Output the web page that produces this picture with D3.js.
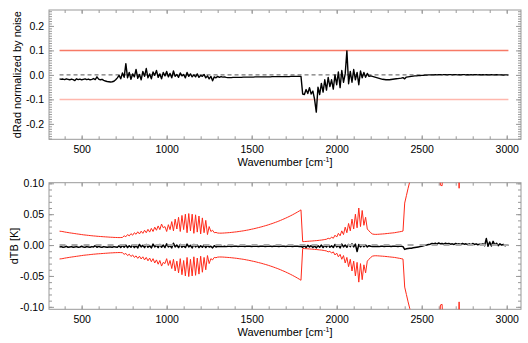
<!DOCTYPE html>
<html>
<head>
<meta charset="utf-8">
<script src="https://cdn.jsdelivr.net/npm/d3@7"></script>
<style>
  body { margin: 0; background: #fff; }
  svg { display: block; }
</style>
</head>
<body>
<div id="chart"></div>
<script>
// wavenumber grid shared by all series: 370, 380, ... 3010 cm-1
const wnStart = 370;
const wnStep = 10;

// top panel: radiance difference normalized by noise
const dRad = [
  -0.016,-0.018,-0.017,-0.019,-0.016,-0.018,-0.020,-0.017,-0.019,-0.023, // 370
  -0.016,-0.019,-0.017,-0.020,-0.018,-0.016,-0.019,-0.017,-0.020,-0.018, // 470
  -0.015,-0.019,-0.008,-0.017,-0.020,-0.018,-0.022,-0.025,-0.027,-0.028, // 570
  -0.029,-0.028,-0.026,-0.020,-0.012,-0.002,-0.016, 0.008,-0.010, 0.046, // 670
  -0.012, 0.010,-0.018, 0.004,-0.008, 0.022,-0.014, 0.002,-0.020, 0.014, // 770
  -0.006, 0.026,-0.012, 0.004,-0.016, 0.012,-0.002, 0.018,-0.010, 0.004, // 870
  -0.016, 0.010,-0.004, 0.014,-0.008, 0.006,-0.012, 0.016,-0.006, 0.002, // 970
  -0.010, 0.008,-0.004, 0.002,-0.012, 0.010,-0.006, 0.004,-0.008, 0.000, // 1070
  -0.008, 0.004,-0.010,-0.002,-0.006, 0.002,-0.012,-0.004,-0.016,-0.006, // 1170
  -0.024,-0.008,-0.012,-0.006,-0.010,-0.007,-0.009,-0.008,-0.010,-0.011, // 1270
  -0.011,-0.011,-0.010,-0.010,-0.010,-0.010,-0.010,-0.010,-0.009,-0.009, // 1370
  -0.009,-0.009,-0.009,-0.009,-0.009,-0.008,-0.008,-0.008,-0.008,-0.008, // 1470
  -0.008,-0.008,-0.008,-0.008,-0.008,-0.007,-0.007,-0.007,-0.007,-0.007, // 1570
  -0.007,-0.007,-0.007,-0.007,-0.007,-0.007,-0.006,-0.006,-0.006,-0.006, // 1670
  -0.006,-0.006,-0.006,-0.078,-0.080,-0.060,-0.076,-0.052,-0.078,-0.066, // 1770
  -0.100,-0.152,-0.050,-0.080,-0.035,-0.070,-0.020,-0.062,-0.010,-0.048, // 1870
  -0.020,-0.058, 0.000,-0.040, 0.012,-0.052, 0.018,-0.030, 0.004, 0.098, // 1970
  -0.036, 0.014,-0.030, 0.022,-0.020, 0.010,-0.040, 0.016,-0.012, 0.010, // 2070
  -0.010, 0.006,-0.006,-0.004,-0.006,-0.008,-0.010,-0.012,-0.014,-0.016, // 2170
  -0.018,-0.019,-0.020,-0.020,-0.020,-0.019,-0.018,-0.017,-0.016,-0.015, // 2270
  -0.014,-0.013,-0.011,-0.016,-0.009,-0.008,-0.007,-0.006,-0.005,-0.004, // 2370
  -0.004,-0.003,-0.003,-0.002,-0.002,-0.001,-0.001, 0.000, 0.000, 0.000, // 2470
   0.000, 0.001, 0.000, 0.001, 0.001, 0.000, 0.001, 0.001, 0.000, 0.001, // 2570
   0.001, 0.000, 0.001, 0.001, 0.000, 0.001, 0.000, 0.001, 0.001, 0.000, // 2670
   0.001, 0.000, 0.001, 0.000, 0.001, 0.001, 0.000, 0.001, 0.000, 0.001, // 2770
   0.000, 0.001, 0.000, 0.000, 0.001, 0.000, 0.000, 0.001, 0.000, 0.000, // 2870
   0.000,-0.001, 0.000, 0.000,-0.001                                      // 2970
];

// bottom panel: brightness temperature difference [K]
const dTB = [
  -0.0030,-0.0025,-0.0035,-0.0030,-0.0020,-0.0035,-0.0030,-0.0025,-0.0035,-0.0030, // 370
  -0.0025,-0.0035,-0.0030,-0.0020,-0.0030,-0.0035,-0.0025,-0.0030,-0.0035,-0.0025, // 470
  -0.0030,-0.0010,-0.0035,-0.0020,-0.0030,-0.0035,-0.0025,-0.0030,-0.0035,-0.0030, // 570
  -0.0030,-0.0035,-0.0025,-0.0030,-0.0035,-0.0010,-0.0040,-0.0005,-0.0035, 0.0000, // 670
  -0.0040,-0.0010,-0.0035, 0.0005,-0.0040,-0.0010,-0.0045, 0.0010,-0.0030,-0.0005, // 770
  -0.0040, 0.0010,-0.0035,-0.0010,-0.0045, 0.0015,-0.0030,-0.0005,-0.0040, 0.0010, // 870
  -0.0035, 0.0000,-0.0040, 0.0020,-0.0030,-0.0010,-0.0045, 0.0030,-0.0030, 0.0000, // 970
  -0.0040, 0.0010,-0.0035,-0.0010,-0.0040, 0.0015,-0.0030,-0.0005,-0.0045, 0.0010, // 1070
  -0.0030, 0.0000,-0.0040,-0.0010,-0.0035, 0.0000,-0.0040,-0.0010,-0.0030,-0.0020, // 1170
  -0.0045,-0.0010,-0.0030,-0.0020,-0.0025,-0.0020,-0.0025,-0.0020,-0.0025,-0.0020, // 1270
  -0.0020,-0.0022,-0.0020,-0.0018,-0.0020,-0.0022,-0.0020,-0.0018,-0.0020,-0.0022, // 1370
  -0.0020,-0.0018,-0.0020,-0.0022,-0.0020,-0.0018,-0.0020,-0.0022,-0.0020,-0.0018, // 1470
  -0.0020,-0.0022,-0.0020,-0.0018,-0.0020,-0.0022,-0.0020,-0.0018,-0.0020,-0.0022, // 1570
  -0.0020,-0.0018,-0.0020,-0.0022,-0.0020,-0.0018,-0.0020,-0.0022,-0.0020,-0.0018, // 1670
  -0.0020,-0.0022,-0.0020,-0.0035,-0.0010,-0.0040,-0.0005,-0.0030,-0.0010,-0.0040, // 1770
  -0.0015,-0.0045,-0.0010,-0.0035, 0.0000,-0.0040,-0.0005,-0.0030, 0.0005,-0.0035, // 1870
  -0.0010,-0.0040, 0.0010,-0.0030,-0.0005,-0.0045, 0.0015,-0.0030, 0.0000,-0.0035, // 1970
   0.0010,-0.0025, 0.0020,-0.0030, 0.0015,-0.0105, 0.0010,-0.0030, 0.0005,-0.0025, // 2070
   0.0000,-0.0030,-0.0010,-0.0020,-0.0025,-0.0020,-0.0025,-0.0020,-0.0025,-0.0020, // 2170
  -0.0020,-0.0022,-0.0020,-0.0018,-0.0020,-0.0022,-0.0020,-0.0018,-0.0020,-0.0022, // 2270
  -0.0020,-0.0020,-0.0025,-0.0070,-0.0060,-0.0055,-0.0050,-0.0050,-0.0045,-0.0040, // 2370
  -0.0035,-0.0030,-0.0025,-0.0020,-0.0010,-0.0005, 0.0000, 0.0010, 0.0015, 0.0025, // 2470
   0.0020, 0.0030, 0.0015, 0.0035, 0.0020, 0.0025, 0.0015, 0.0030, 0.0020, 0.0025, // 2570
   0.0015, 0.0020, 0.0010, 0.0025, 0.0015, 0.0020, 0.0010, 0.0025, 0.0015, 0.0020, // 2670
   0.0010, 0.0020, 0.0005, 0.0025, 0.0010, 0.0020, 0.0005, 0.0015, 0.0010, 0.0020, // 2770
  -0.0010, 0.0105,-0.0020, 0.0050,-0.0015, 0.0060, 0.0000, 0.0030,-0.0010, 0.0020, // 2870
   0.0000, 0.0010,-0.0010, 0.0000,-0.0005                                          // 2970
];

// bottom panel: +/- uncertainty envelope of dTB [K] (drawn above and below zero)
const tbErr = [
  .0225,.0222,.0218,.0212,.0207,.0203,.0198,.0194,.0190,.0186, // 370
  .0182,.0178,.0174,.0170,.0166,.0163,.0160,.0157,.0154,.0151, // 470
  .0148,.0146,.0143,.0141,.0139,.0137,.0135,.0133,.0131,.0129, // 570
  .0127,.0126,.0124,.0123,.0122,.0121,.0122,.0124,.0150,.0135, // 670
  .0170,.0148,.0185,.0160,.0200,.0175,.0215,.0180,.0225,.0190, // 770
  .0240,.0200,.0255,.0210,.0270,.0220,.0290,.0240,.0310,.0250, // 870
  .0340,.0280,.0300,.0220,.0330,.0250,.0380,.0230,.0420,.0260, // 970
  .0450,.0220,.0480,.0250,.0500,.0200,.0510,.0230,.0500,.0190, // 1070
  .0490,.0210,.0470,.0180,.0440,.0200,.0400,.0170,.0300,.0220, // 1170
  .0240,.0200,.0205,.0195,.0193,.0193,.0194,.0196,.0198,.0200, // 1270
  .0202,.0205,.0208,.0211,.0214,.0218,.0222,.0226,.0230,.0235, // 1370
  .0240,.0245,.0251,.0257,.0263,.0269,.0276,.0283,.0290,.0297, // 1470
  .0305,.0313,.0321,.0330,.0339,.0348,.0358,.0368,.0378,.0389, // 1570
  .0400,.0412,.0424,.0436,.0449,.0462,.0476,.0490,.0505,.0520, // 1670
  .0536,.0552,.0570,.0055,.0057,.0059,.0061,.0063,.0065,.0067, // 1770
  .0070,.0072,.0075,.0078,.0081,.0085,.0090,.0095,.0110,.0100, // 1870
  .0130,.0110,.0160,.0130,.0190,.0150,.0230,.0170,.0290,.0200, // 1970
  .0350,.0230,.0420,.0260,.0500,.0280,.0600,.0300,.0560,.0320, // 2070
  .0450,.0260,.0230,.0200,.0180,.0174,.0173,.0174,.0176,.0178, // 2170
  .0180,.0182,.0185,.0188,.0191,.0194,.0197,.0200,.0205,.0210, // 2270
  .0215,.0220,.0227,.0680,.0800,.0920,.1030,.1200,.1400,.1600, // 2370
  .180,.200,.210,.220,.230,.230,.220,.220,.210,.200,           // 2470
  .190,.180,.170,.160,.097,.096,.160,.180,.200,.210,           // 2570
  .220,.230,.220,.210,.200,.092,.200,.210,.220,.230,           // 2670
  .230,.220,.220,.210,.210,.200,.200,.200,.190,.190,           // 2770
  .190,.180,.180,.180,.170,.170,.170,.170,.160,.160,           // 2870
  .160,.160,.150,.150,.150                                     // 2970
];

// threshold lines in the top panel
const radLimits = [0.1, -0.1];
const radLimitColors = ['#f77a66', '#ffb7ad'];

// axis ticks and labels
const xDomain = [308, 3084];
const xMajor = [500, 1000, 1500, 2000, 2500, 3000];
const xMinor = d3.range(400, 3001, 100);
const radDomain = [-0.263, 0.265];
const radMajor = [-0.2, -0.1, 0.0, 0.1, 0.2];
const radMinor = d3.range(-26, 27).map(i => i / 100);
const tbDomain = [-0.104, 0.101];
const tbMajor = [-0.10, -0.05, 0.00, 0.05, 0.10];
const tbMinor = d3.range(-10, 11).map(i => i / 100);

const width = 528, height = 343;
const left = 49, right = 521;
const axisColor = '#999';
const font = '"Liberation Sans", Arial, Helvetica, sans-serif';

const wn = dRad.map((d, i) => wnStart + i * wnStep);

const svg = d3.select('#chart').append('svg')
  .attr('width', width)
  .attr('height', height);

const x = d3.scaleLinear().domain(xDomain).range([left, right]);

// draws frame, inward ticks on all four sides, tick labels and titles
function drawFrame(y, top, bottom, major, minor, fmt, yTitle, yTitleX) {
  let g = svg.append('g');

  let bottomAxis = g.append('g').attr('transform', 'translate(0,' + bottom + ')');
  bottomAxis.append('g').call(d3.axisBottom(x).tickValues(xMinor).tickSize(-3).tickFormat(''));
  bottomAxis.append('g').call(d3.axisBottom(x).tickValues(xMajor).tickSize(-4).tickPadding(6).tickFormat(d => d));

  let topAxis = g.append('g').attr('transform', 'translate(0,' + top + ')');
  topAxis.append('g').call(d3.axisTop(x).tickValues(xMinor).tickSize(-3).tickFormat(''));
  topAxis.append('g').call(d3.axisTop(x).tickValues(xMajor).tickSize(-4).tickFormat(''));

  let leftAxis = g.append('g').attr('transform', 'translate(' + left + ',0)');
  leftAxis.append('g').call(d3.axisLeft(y).tickValues(minor).tickSize(-3).tickFormat(''));
  leftAxis.append('g').call(d3.axisLeft(y).tickValues(major).tickSize(-5).tickPadding(5).tickFormat(fmt));

  let rightAxis = g.append('g').attr('transform', 'translate(' + right + ',0)');
  rightAxis.append('g').call(d3.axisRight(y).tickValues(minor).tickSize(-3).tickFormat(''));
  rightAxis.append('g').call(d3.axisRight(y).tickValues(major).tickSize(-5).tickFormat(''));

  g.selectAll('.domain').remove();
  g.selectAll('.tick line').attr('stroke', axisColor);
  g.selectAll('.tick text')
    .attr('fill', '#000')
    .style('font-family', font)
    .style('font-size', '10.5px');

  g.append('rect')
    .attr('x', left)
    .attr('y', top)
    .attr('width', right - left)
    .attr('height', bottom - top)
    .attr('fill', 'none')
    .attr('stroke', axisColor);

  // x title with superscript
  let xt = g.append('text')
    .attr('x', (left + right) / 2)
    .attr('y', bottom + 27)
    .attr('text-anchor', 'middle')
    .style('font-family', font)
    .style('font-size', '11px');
  xt.append('tspan').text('Wavenumber [cm');
  xt.append('tspan').attr('dy', -4).style('font-size', '7px').text('-1');
  xt.append('tspan').attr('dy', 4).text(']');

  g.append('text')
    .attr('transform', 'translate(' + yTitleX + ',' + ((top + bottom) / 2) + ') rotate(-90)')
    .attr('text-anchor', 'middle')
    .style('font-family', font)
    .style('font-size', '11px')
    .text(yTitle);
}

// ---------- top panel ----------
const topT = 10, topB = 139.3;
const yRad = d3.scaleLinear().domain(radDomain).range([topB, topT]);

drawFrame(yRad, topT, topB, radMajor, radMinor, d => d.toFixed(1), 'dRad normalized by noise', 20.5);

const wnFirst = wn[0], wnLast = wn[wn.length - 1];

svg.append('g').selectAll('line')
  .data(radLimits)
  .enter()
  .append('line')
  .attr('x1', x(wnFirst))
  .attr('x2', x(wnLast))
  .attr('y1', d => yRad(d))
  .attr('y2', d => yRad(d))
  .attr('stroke', (d, i) => radLimitColors[i])
  .attr('stroke-width', 1.5);

svg.append('line')
  .attr('x1', x(wnFirst))
  .attr('x2', x(wnLast))
  .attr('y1', yRad(0))
  .attr('y2', yRad(0))
  .attr('stroke', '#555')
  .attr('stroke-dasharray', '4,3');

const radLine = d3.line()
  .x((d, i) => x(wn[i]))
  .y(d => yRad(d));

svg.append('path')
  .datum(dRad)
  .attr('d', radLine)
  .attr('fill', 'none')
  .attr('stroke', '#000')
  .attr('stroke-width', 1.4)
  .attr('stroke-linejoin', 'round');

// ---------- bottom panel ----------
const botT = 182.7, botB = 309.3;
const yTb = d3.scaleLinear().domain(tbDomain).range([botB, botT]);

drawFrame(yTb, botT, botB, tbMajor, tbMinor, d => d.toFixed(2), 'dTB [K]', 18);

svg.append('clipPath')
  .attr('id', 'clip-bot')
  .append('rect')
  .attr('x', left)
  .attr('y', botT)
  .attr('width', right - left)
  .attr('height', botB - botT);

const plotBot = svg.append('g').attr('clip-path', 'url(#clip-bot)');

const tbLine = d3.line()
  .x((d, i) => x(wn[i]))
  .y(d => yTb(d));

// the envelope is drawn as +err and -err
[1, -1].forEach(sign => {
  plotBot.append('path')
    .datum(tbErr.map(d => sign * d))
    .attr('d', tbLine)
    .attr('fill', 'none')
    .attr('stroke', '#ff2a1a')
    .attr('stroke-width', 1);
});

plotBot.append('path')
  .datum(dTB)
  .attr('d', tbLine)
  .attr('fill', 'none')
  .attr('stroke', '#000')
  .attr('stroke-width', 1.5)
  .attr('stroke-linejoin', 'round');

plotBot.append('line')
  .attr('x1', x(wnFirst))
  .attr('x2', x(wnLast))
  .attr('y1', yTb(0))
  .attr('y2', yTb(0))
  .attr('stroke', '#aaa')
  .attr('stroke-width', 2)
  .attr('stroke-dasharray', '6,6');
</script>
</body>
</html>
